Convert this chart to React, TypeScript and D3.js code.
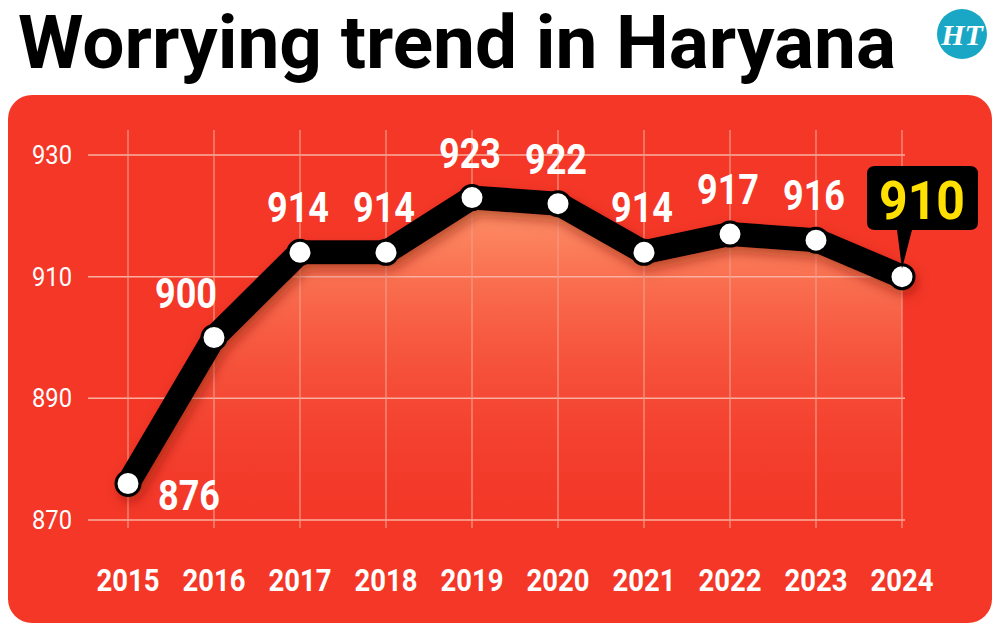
import React from "react";
import * as d3 from "d3";

const years = ["2015","2016","2017","2018","2019","2020","2021","2022","2023","2024"];
const values = [876, 900, 914, 914, 923, 922, 914, 917, 916, 910];
const yTicks = [870, 890, 910, 930];

export default function App() {
  const x = d3.scalePoint<string>().domain(years).range([128, 902]);
  const y = d3.scaleLinear().domain([870, 930]).range([520, 155]);
  const pts: [number, number][] = values.map((v, i) => [x(years[i])!, y(v)]);
  const line = d3.line().curve(d3.curveLinear)(pts)!;
  const area = d3.area().x(d => d[0]).y0(520).y1(d => d[1])(pts)!;
  const font = "'Liberation Sans Narrow','Roboto',sans-serif";
  return (
    <svg width={1000} height={631} style={{ position: "absolute", left: 0, top: 0, background: "#fff" }}>
      <defs>
        <linearGradient id="ar" x1="0" y1="0" x2="0" y2="1">
          <stop offset="0" stopColor="#ff9a6e" stopOpacity={0.95} />
          <stop offset="1" stopColor="#f0382a" stopOpacity={0.2} />
        </linearGradient>
        <filter id="sh" x="-10%" y="-10%" width="120%" height="130%">
          <feDropShadow dx="3" dy="6" stdDeviation="6" floodColor="#7a0a00" floodOpacity="0.5" />
        </filter>
      </defs>
      <text x={18} y={68} fontFamily={font} fontWeight={700} fontSize={74} fill="#000" textLength={878} lengthAdjust="spacingAndGlyphs">Worrying trend in Haryana</text>
      <circle cx={962} cy={34} r={25} fill="#1aa7c5" />
      <text x={962} y={45} textAnchor="middle" fontFamily="serif" fontStyle="italic" fontWeight={700} fontSize={30} fill="#fff">HT</text>
      <rect x={8} y={95} width={984} height={528} rx={24} fill="#f43727" />
      <path d={area} fill="url(#ar)" />
      {yTicks.map(t => (
        <g key={t}>
          <line x1={88} x2={905} y1={y(t)} y2={y(t)} stroke="#f9b0a0" strokeWidth={1.5} />
          <text x={52} y={y(t) + 9} textAnchor="middle" fontFamily={font} fontSize={25} fill="#fff" textLength={40} lengthAdjust="spacingAndGlyphs">{t}</text>
        </g>
      ))}
      {years.map(yr => (
        <g key={yr}>
          <line x1={x(yr)} x2={x(yr)} y1={130} y2={528} stroke="#f79a88" strokeWidth={1.2} />
          <text x={x(yr)} y={591} textAnchor="middle" fontFamily={font} fontWeight={700} fontSize={31} fill="#fff" textLength={63} lengthAdjust="spacingAndGlyphs">{yr}</text>
        </g>
      ))}
      <path d={line} fill="none" stroke="#000" strokeWidth={24} strokeLinejoin="round" strokeLinecap="round" filter="url(#sh)" />
      {pts.map((p, i) => (
        <circle key={i} cx={p[0]} cy={p[1]} r={12} fill="#fff" stroke="#000" strokeWidth={3} />
      ))}
      {values.map((v, i) => {
        if (i === 9) return null;
        const [px, py] = pts[i];
        const lx = i === 0 ? px + 61 : i === 1 ? px - 28 : px - 2;
        const ly = i === 0 ? py + 26 : py - 30;
        return <text key={i} x={lx} y={ly} textAnchor="middle" fontFamily={font} fontWeight={700} fontSize={42} fill="#fff" textLength={62} lengthAdjust="spacingAndGlyphs">{v}</text>;
      })}
      <path d={`M${pts[9][0]},${pts[9][1] - 8} L897,230 L875,230 Q867,230 867,222 L867,174 Q867,166 875,166 L970,166 Q978,166 978,174 L978,222 Q978,230 970,230 L912,230 Z`} fill="#000" />
      <text x={922} y={219} textAnchor="middle" fontFamily={font} fontWeight={700} fontSize={54} fill="#ffe000" textLength={86} lengthAdjust="spacingAndGlyphs">{values[9]}</text>
    </svg>
  );
}
